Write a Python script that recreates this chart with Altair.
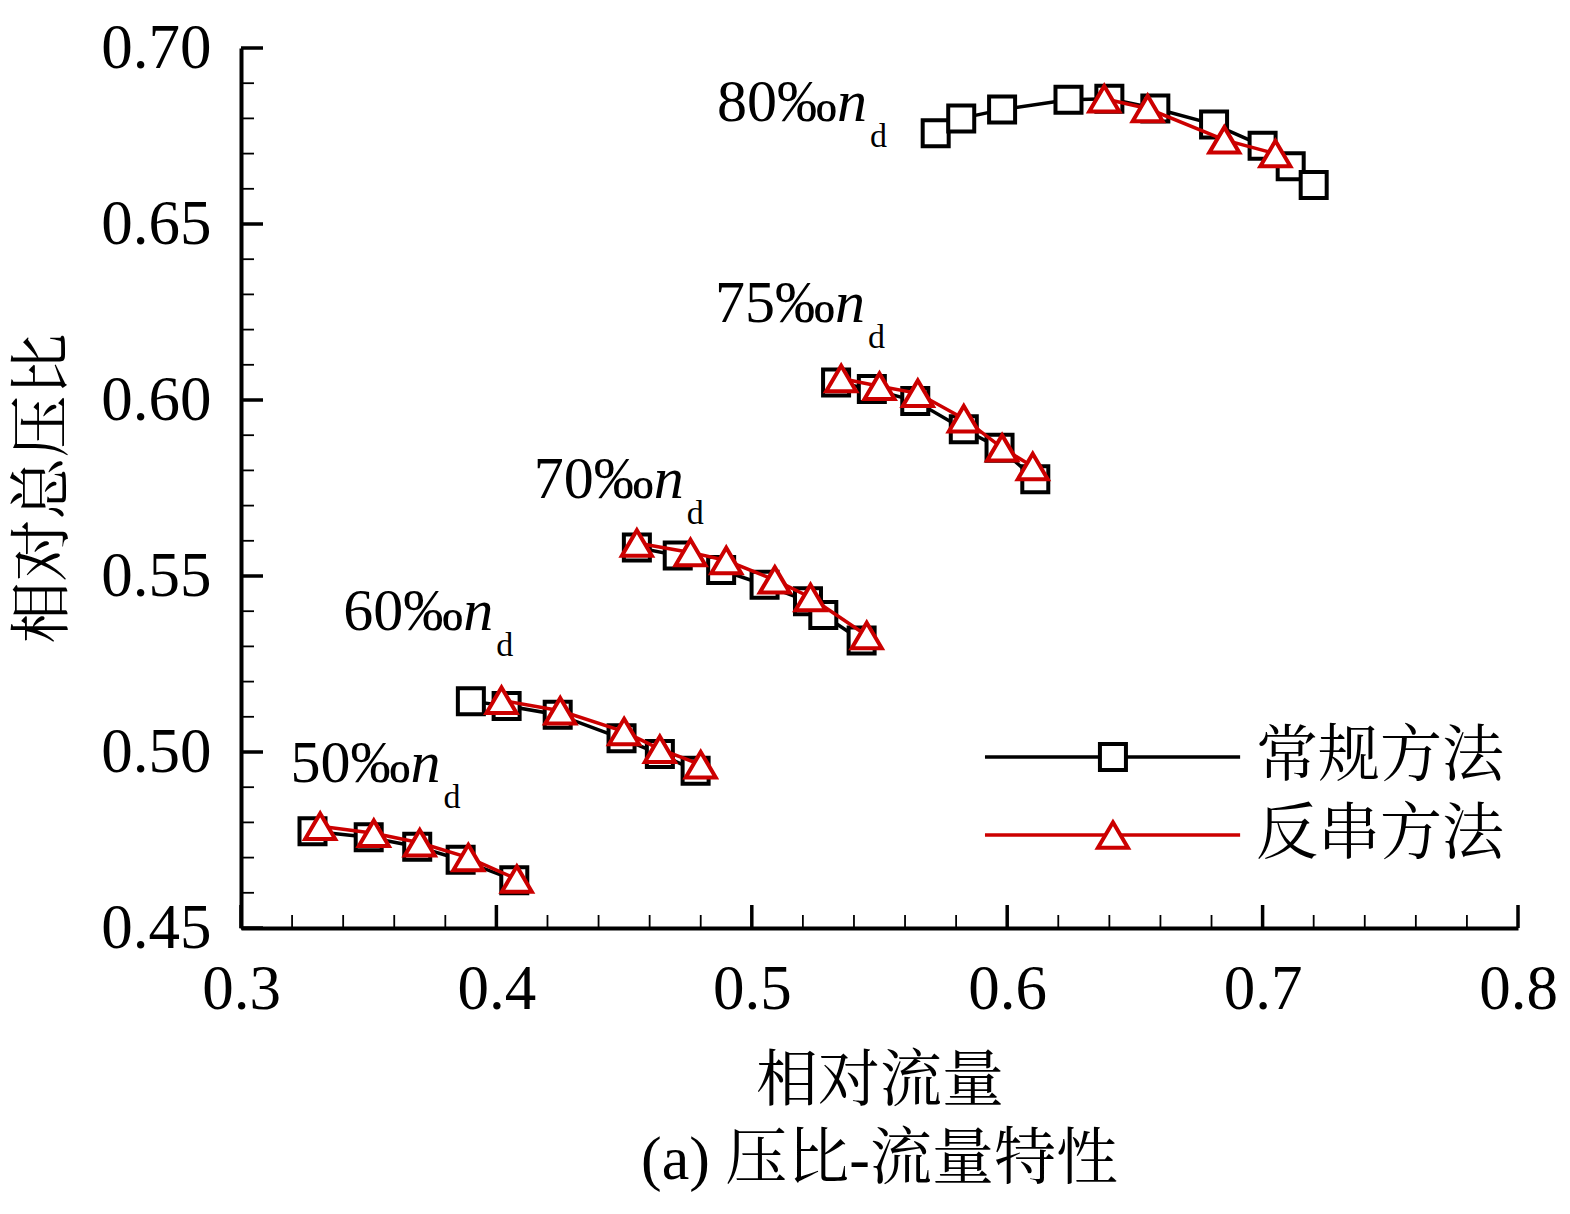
import altair as alt
import pandas as pd

# ---------------- data ----------------
methods = ["常规方法", "反串方法"]

conv50_x = [0.328, 0.350, 0.369, 0.386, 0.407]
conv50_y = [0.4775, 0.4758, 0.4731, 0.4694, 0.4636]
rev50_x = [0.331, 0.352, 0.370, 0.389, 0.408]
rev50_y = [0.4789, 0.4769, 0.4742, 0.4700, 0.4639]

conv60_x = [0.390, 0.404, 0.424, 0.449, 0.464, 0.478]
conv60_y = [0.5144, 0.5131, 0.5106, 0.5039, 0.4994, 0.4947]
rev60_x = [0.402, 0.425, 0.450, 0.464, 0.480]
rev60_y = [0.5147, 0.5117, 0.5058, 0.5008, 0.4964]

conv70_x = [0.455, 0.471, 0.488, 0.505, 0.522, 0.528, 0.543]
conv70_y = [0.5581, 0.5558, 0.5517, 0.5475, 0.5428, 0.5389, 0.5317]
rev70_x = [0.455, 0.476, 0.490, 0.509, 0.523, 0.545]
rev70_y = [0.5594, 0.5567, 0.5544, 0.5489, 0.5439, 0.5331]

conv75_x = [0.533, 0.547, 0.564, 0.583, 0.597, 0.611]
conv75_y = [0.6050, 0.6031, 0.5997, 0.5917, 0.5864, 0.5775]
rev75_x = [0.535, 0.550, 0.565, 0.583, 0.598, 0.610]
rev75_y = [0.6061, 0.6039, 0.6019, 0.5947, 0.5864, 0.5811]

conv80_x = [0.572, 0.582, 0.598, 0.624, 0.640, 0.658, 0.681, 0.700, 0.711, 0.720]
conv80_y = [0.6758, 0.6800, 0.6825, 0.6853, 0.6856, 0.6828, 0.6783, 0.6722, 0.6664, 0.6611]
rev80_x = [0.638, 0.655, 0.685, 0.705]
rev80_y = [0.6856, 0.6828, 0.6739, 0.6700]

speed_label_text = ["50‰", "60‰", "70‰", "75‰", "80‰"]
speed_label_x = [0.3194, 0.3400, 0.4146, 0.4856, 0.4864]
speed_label_y = [0.4914, 0.5347, 0.5722, 0.6222, 0.6792]

x_major = [0.3, 0.4, 0.5, 0.6, 0.7, 0.8]
x_minor = [0.32, 0.34, 0.36, 0.38, 0.42, 0.44, 0.46, 0.48, 0.52, 0.54,
           0.56, 0.58, 0.62, 0.64, 0.66, 0.68, 0.72, 0.74, 0.76, 0.78]
y_major = [0.45, 0.50, 0.55, 0.60, 0.65, 0.70]
y_minor = [0.46, 0.47, 0.48, 0.49, 0.51, 0.52, 0.53, 0.54, 0.56, 0.57,
           0.58, 0.59, 0.61, 0.62, 0.63, 0.64, 0.66, 0.67, 0.68, 0.69]

# legend layout (data units)
LEG_X0, LEG_X1, LEG_XM, LEG_XT = 0.5913, 0.6912, 0.6414, 0.6974
LEG_Y = [0.4986, 0.4764]

# ---------------- build tables ----------------
series = [
    (methods[0], "50", conv50_x, conv50_y), (methods[1], "50", rev50_x, rev50_y),
    (methods[0], "60", conv60_x, conv60_y), (methods[1], "60", rev60_x, rev60_y),
    (methods[0], "70", conv70_x, conv70_y), (methods[1], "70", rev70_x, rev70_y),
    (methods[0], "75", conv75_x, conv75_y), (methods[1], "75", rev75_x, rev75_y),
    (methods[0], "80", conv80_x, conv80_y), (methods[1], "80", rev80_x, rev80_y),
]
rows = []
for m, s, xs_, ys_ in series:
    for i, (a, b) in enumerate(zip(xs_, ys_)):
        rows.append({"method": m, "speed": s, "order": i, "x": a, "y": b})
df = pd.DataFrame(rows)
conv = df[df["method"] == methods[0]]
rev = df[df["method"] == methods[1]]

labels_df = pd.DataFrame({"text": speed_label_text, "x": speed_label_x, "y": speed_label_y})

FONT = "Liberation Serif, Times New Roman, Noto Serif CJK SC, Noto Sans CJK SC"
RED = "#CC0000"
TRI = "M0,-0.85L1,0.85L-1,0.85Z"

xs = alt.Scale(domain=[0.3, 0.8], nice=False, zero=False)
ys = alt.Scale(domain=[0.45, 0.70], nice=False, zero=False)

x_axis = alt.Axis(values=x_major, format=".1f", title="相对流量", ticks=False, grid=False,
                  domain=True, domainWidth=4, domainColor="black", labelFontSize=63,
                  labelFont=FONT, labelColor="black", labelPadding=30, labelFlush=False,
                  labelOverlap=False, titleFontSize=62, titleFont=FONT,
                  titleFontWeight="normal", titleColor="black", titlePadding=30)
y_axis = alt.Axis(values=y_major, format=".2f", title="相对总压比", ticks=False, grid=False,
                  domain=True, domainWidth=4, domainColor="black", labelFontSize=63,
                  labelFont=FONT, labelColor="black", labelPadding=30, labelFlush=False,
                  labelOverlap=False, titleFontSize=62, titleFont=FONT,
                  titleFontWeight="normal", titleColor="black", titlePadding=25)


def X(f):
    return alt.X(f, scale=xs, axis=x_axis, title="相对流量")


def Y(f):
    return alt.Y(f, scale=ys, axis=y_axis, title="相对总压比")


PH = 880  # plot height in px

# ticks (pointing inward)
xt_major = alt.Chart(pd.DataFrame({"v": x_major})).mark_rule(color="black", strokeWidth=3.5).encode(
    x=X("v:Q"), y=alt.value(PH), y2=alt.value(PH - 23))
xt_minor = alt.Chart(pd.DataFrame({"v": x_minor})).mark_rule(color="black", strokeWidth=1.8).encode(
    x=X("v:Q"), y=alt.value(PH), y2=alt.value(PH - 13))
yt_major = alt.Chart(pd.DataFrame({"v": y_major})).mark_rule(color="black", strokeWidth=3.5).encode(
    y=Y("v:Q"), x=alt.value(0), x2=alt.value(22))
yt_minor = alt.Chart(pd.DataFrame({"v": y_minor})).mark_rule(color="black", strokeWidth=1.8).encode(
    y=Y("v:Q"), x=alt.value(0), x2=alt.value(13))

conv_line = alt.Chart(conv).mark_line(color="black", strokeWidth=3.5).encode(
    x=X("x:Q"), y=Y("y:Q"), detail="speed:N", order="order:Q")
conv_pts = alt.Chart(conv).mark_point(shape="square", size=676, filled=True, fill="white",
                                      stroke="black", strokeWidth=4, opacity=1).encode(
    x=X("x:Q"), y=Y("y:Q"))
rev_line = alt.Chart(rev).mark_line(color=RED, strokeWidth=3.5).encode(
    x=X("x:Q"), y=Y("y:Q"), detail="speed:N", order="order:Q")
rev_pts = alt.Chart(rev).mark_point(shape=TRI, size=900, filled=True, fill="white",
                                    stroke=RED, strokeWidth=4, opacity=1).encode(
    x=X("x:Q"), y=Y("y:Q"))

lab_main = alt.Chart(labels_df).mark_text(align="left", baseline="alphabetic", fontSize=60,
                                          font=FONT, color="black").encode(
    x=X("x:Q"), y=Y("y:Q"), text="text:N")
lab_n = alt.Chart(labels_df).mark_text(align="left", baseline="alphabetic", fontSize=60,
                                       font=FONT, fontStyle="italic", color="black",
                                       text="n", dx=120).encode(x=X("x:Q"), y=Y("y:Q"))
lab_d = alt.Chart(labels_df).mark_text(align="left", baseline="alphabetic", fontSize=34,
                                       font=FONT, color="black", text="d", dx=153, dy=26).encode(
    x=X("x:Q"), y=Y("y:Q"))

legend_layers = []
styles = [("black", "square", 676), (RED, TRI, 900)]
for (col, shp, sz), m, ly in zip(styles, methods, LEG_Y):
    ld = pd.DataFrame({"label": [m], "x": [LEG_X0], "x1": [LEG_X1], "xm": [LEG_XM],
                       "xt": [LEG_XT], "y": [ly]})
    legend_layers.append(alt.Chart(ld).mark_rule(color=col, strokeWidth=3.5).encode(
        x=X("x:Q"), x2="x1:Q", y=Y("y:Q")))
    legend_layers.append(alt.Chart(ld).mark_point(shape=shp, size=sz, filled=True, fill="white",
                                                  stroke=col, strokeWidth=4, opacity=1).encode(
        x=X("xm:Q"), y=Y("y:Q")))
    legend_layers.append(alt.Chart(ld).mark_text(align="left", baseline="middle",
                                                 fontSize=62, font=FONT, color="black").encode(
        x=X("xt:Q"), y=Y("y:Q"), text="label:N"))

chart = alt.layer(
    conv_line, xt_major, xt_minor, yt_major, yt_minor,
    conv_pts, rev_line, rev_pts, lab_main, lab_n, lab_d, *legend_layers
).properties(
    width=1277, height=PH,
    background="white",
    autosize=alt.AutoSizeParams(type="none"),
    padding={"left": 233, "top": 40, "right": 44, "bottom": 276},
    title=alt.TitleParams(text="(a) 压比-流量特性", orient="bottom", anchor="middle",
                          fontSize=62, font=FONT, fontWeight="normal", color="black", offset=18),
).configure_view(stroke=None)

chart.save("out.html", embed_options={"renderer": "svg", "actions": False})
